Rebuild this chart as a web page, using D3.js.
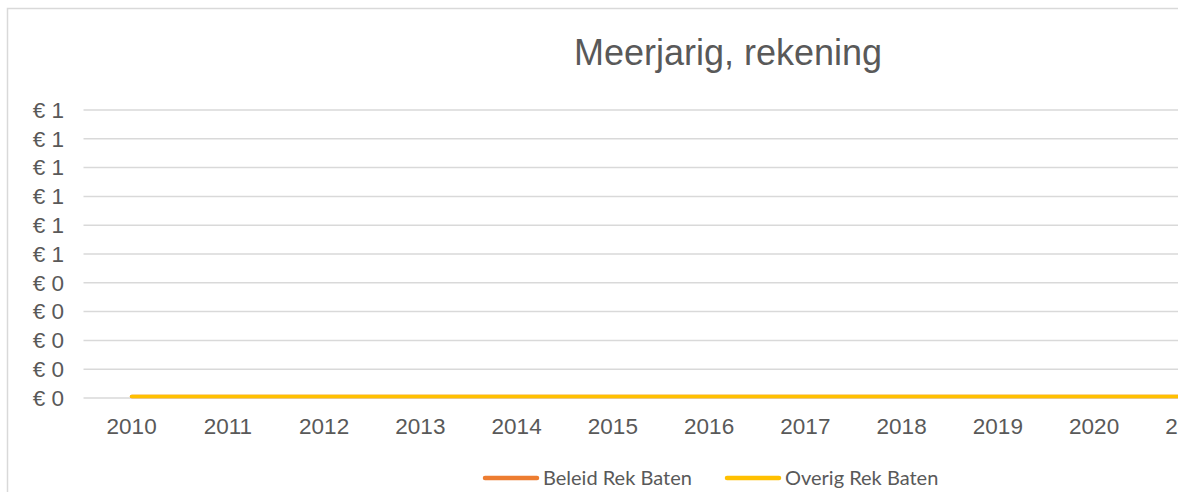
<!DOCTYPE html>
<html>
<head>
<meta charset="utf-8">
<script src="https://cdn.jsdelivr.net/npm/d3@7"></script>
<style>
  body { margin: 0; background: #fff; }
  svg { display: block; }
</style>
</head>
<body>
<svg id="chart"></svg>
<script>
// data
var years = ["2010", "2011", "2012", "2013", "2014", "2015", "2016", "2017", "2018", "2019", "2020", "2021"];
var beleidRekBaten = [0, 0, 0, 0, 0, 0, 0, 0, 0, 0, 0, 0];
var overigRekBaten = [0, 0, 0, 0, 0, 0, 0, 0, 0, 0, 0, 0];
var yTicks = [0, 0.1, 0.2, 0.3, 0.4, 0.5, 0.6, 0.7, 0.8, 0.9, 1];

var series = [
  { name: "Beleid Rek Baten", color: "#ED7D31", values: beleidRekBaten },
  { name: "Overig Rek Baten", color: "#FFC000", values: overigRekBaten }
];

var width = 1188, height = 492;
var svg = d3.select("#chart").attr("width", width).attr("height", height);

svg.append("clipPath").attr("id", "clip")
  .append("rect").attr("x", 0).attr("y", 0).attr("width", 1178).attr("height", height);

var g = svg.append("g").attr("clip-path", "url(#clip)");

// chart frame
g.append("rect")
  .attr("x", 7.5).attr("y", 8.5)
  .attr("width", 1400).attr("height", 600)
  .attr("fill", "#fff")
  .attr("stroke", "#d9d9d9")
  .attr("stroke-width", 1.5);

var plotLeft = 83.5;
var band = 96.25;

var x = d3.scaleBand()
  .domain(years)
  .range([plotLeft, plotLeft + band * years.length]);

var y = d3.scaleLinear()
  .domain([0, 1])
  .range([398, 110]);

// gridlines
g.selectAll(".grid")
  .data(yTicks)
  .enter()
  .append("line")
  .attr("x1", plotLeft)
  .attr("x2", plotLeft + band * years.length)
  .attr("y1", d => y(d))
  .attr("y2", d => y(d))
  .attr("stroke", "#d9d9d9")
  .attr("stroke-width", 1.5);

// y axis labels
g.selectAll(".ylab")
  .data(yTicks)
  .enter()
  .append("text")
  .attr("x", 64)
  .attr("y", d => y(d))
  .attr("dy", "0.35em")
  .attr("text-anchor", "end")
  .attr("font-family", "Liberation Sans, Arial, sans-serif")
  .attr("font-size", 22.5)
  .attr("fill", "#595959")
  .text(d => "€ " + Math.round(d));

// x axis labels
g.selectAll(".xlab")
  .data(years)
  .enter()
  .append("text")
  .attr("x", d => x(d) + x.bandwidth() / 2)
  .attr("y", 434)
  .attr("text-anchor", "middle")
  .attr("font-family", "Liberation Sans, Arial, sans-serif")
  .attr("font-size", 22.5)
  .attr("fill", "#595959")
  .text(d => d);

// lines
var line = d3.line()
  .x((d, i) => x(years[i]) + x.bandwidth() / 2)
  .y(d => y(d) - 1.5);

g.selectAll(".series")
  .data(series)
  .enter()
  .append("path")
  .attr("d", d => line(d.values))
  .attr("fill", "none")
  .attr("stroke", d => d.color)
  .attr("stroke-width", 3.5)
  .attr("stroke-linecap", "round");

// title
g.append("text")
  .attr("x", 728)
  .attr("y", 65)
  .attr("text-anchor", "middle")
  .attr("font-family", "Liberation Sans, Arial, sans-serif")
  .attr("font-size", 36)
  .attr("fill", "#595959")
  .text("Meerjarig, rekening");

// legend
var legendX = [485, 727];
var leg = g.selectAll(".legend")
  .data(series)
  .enter()
  .append("g")
  .attr("transform", (d, i) => "translate(" + legendX[i] + ",478)");

leg.append("line")
  .attr("x1", 0).attr("x2", 52)
  .attr("y1", 0).attr("y2", 0)
  .attr("stroke", d => d.color)
  .attr("stroke-width", 4.5)
  .attr("stroke-linecap", "round");

leg.append("text")
  .attr("x", 58)
  .attr("y", 0)
  .attr("dy", "0.35em")
  .attr("font-family", "Lato, Carlito, Calibri, sans-serif")
  .attr("font-size", 20)
  .attr("fill", "#595959")
  .text(d => d.name);
</script>
</body>
</html>
